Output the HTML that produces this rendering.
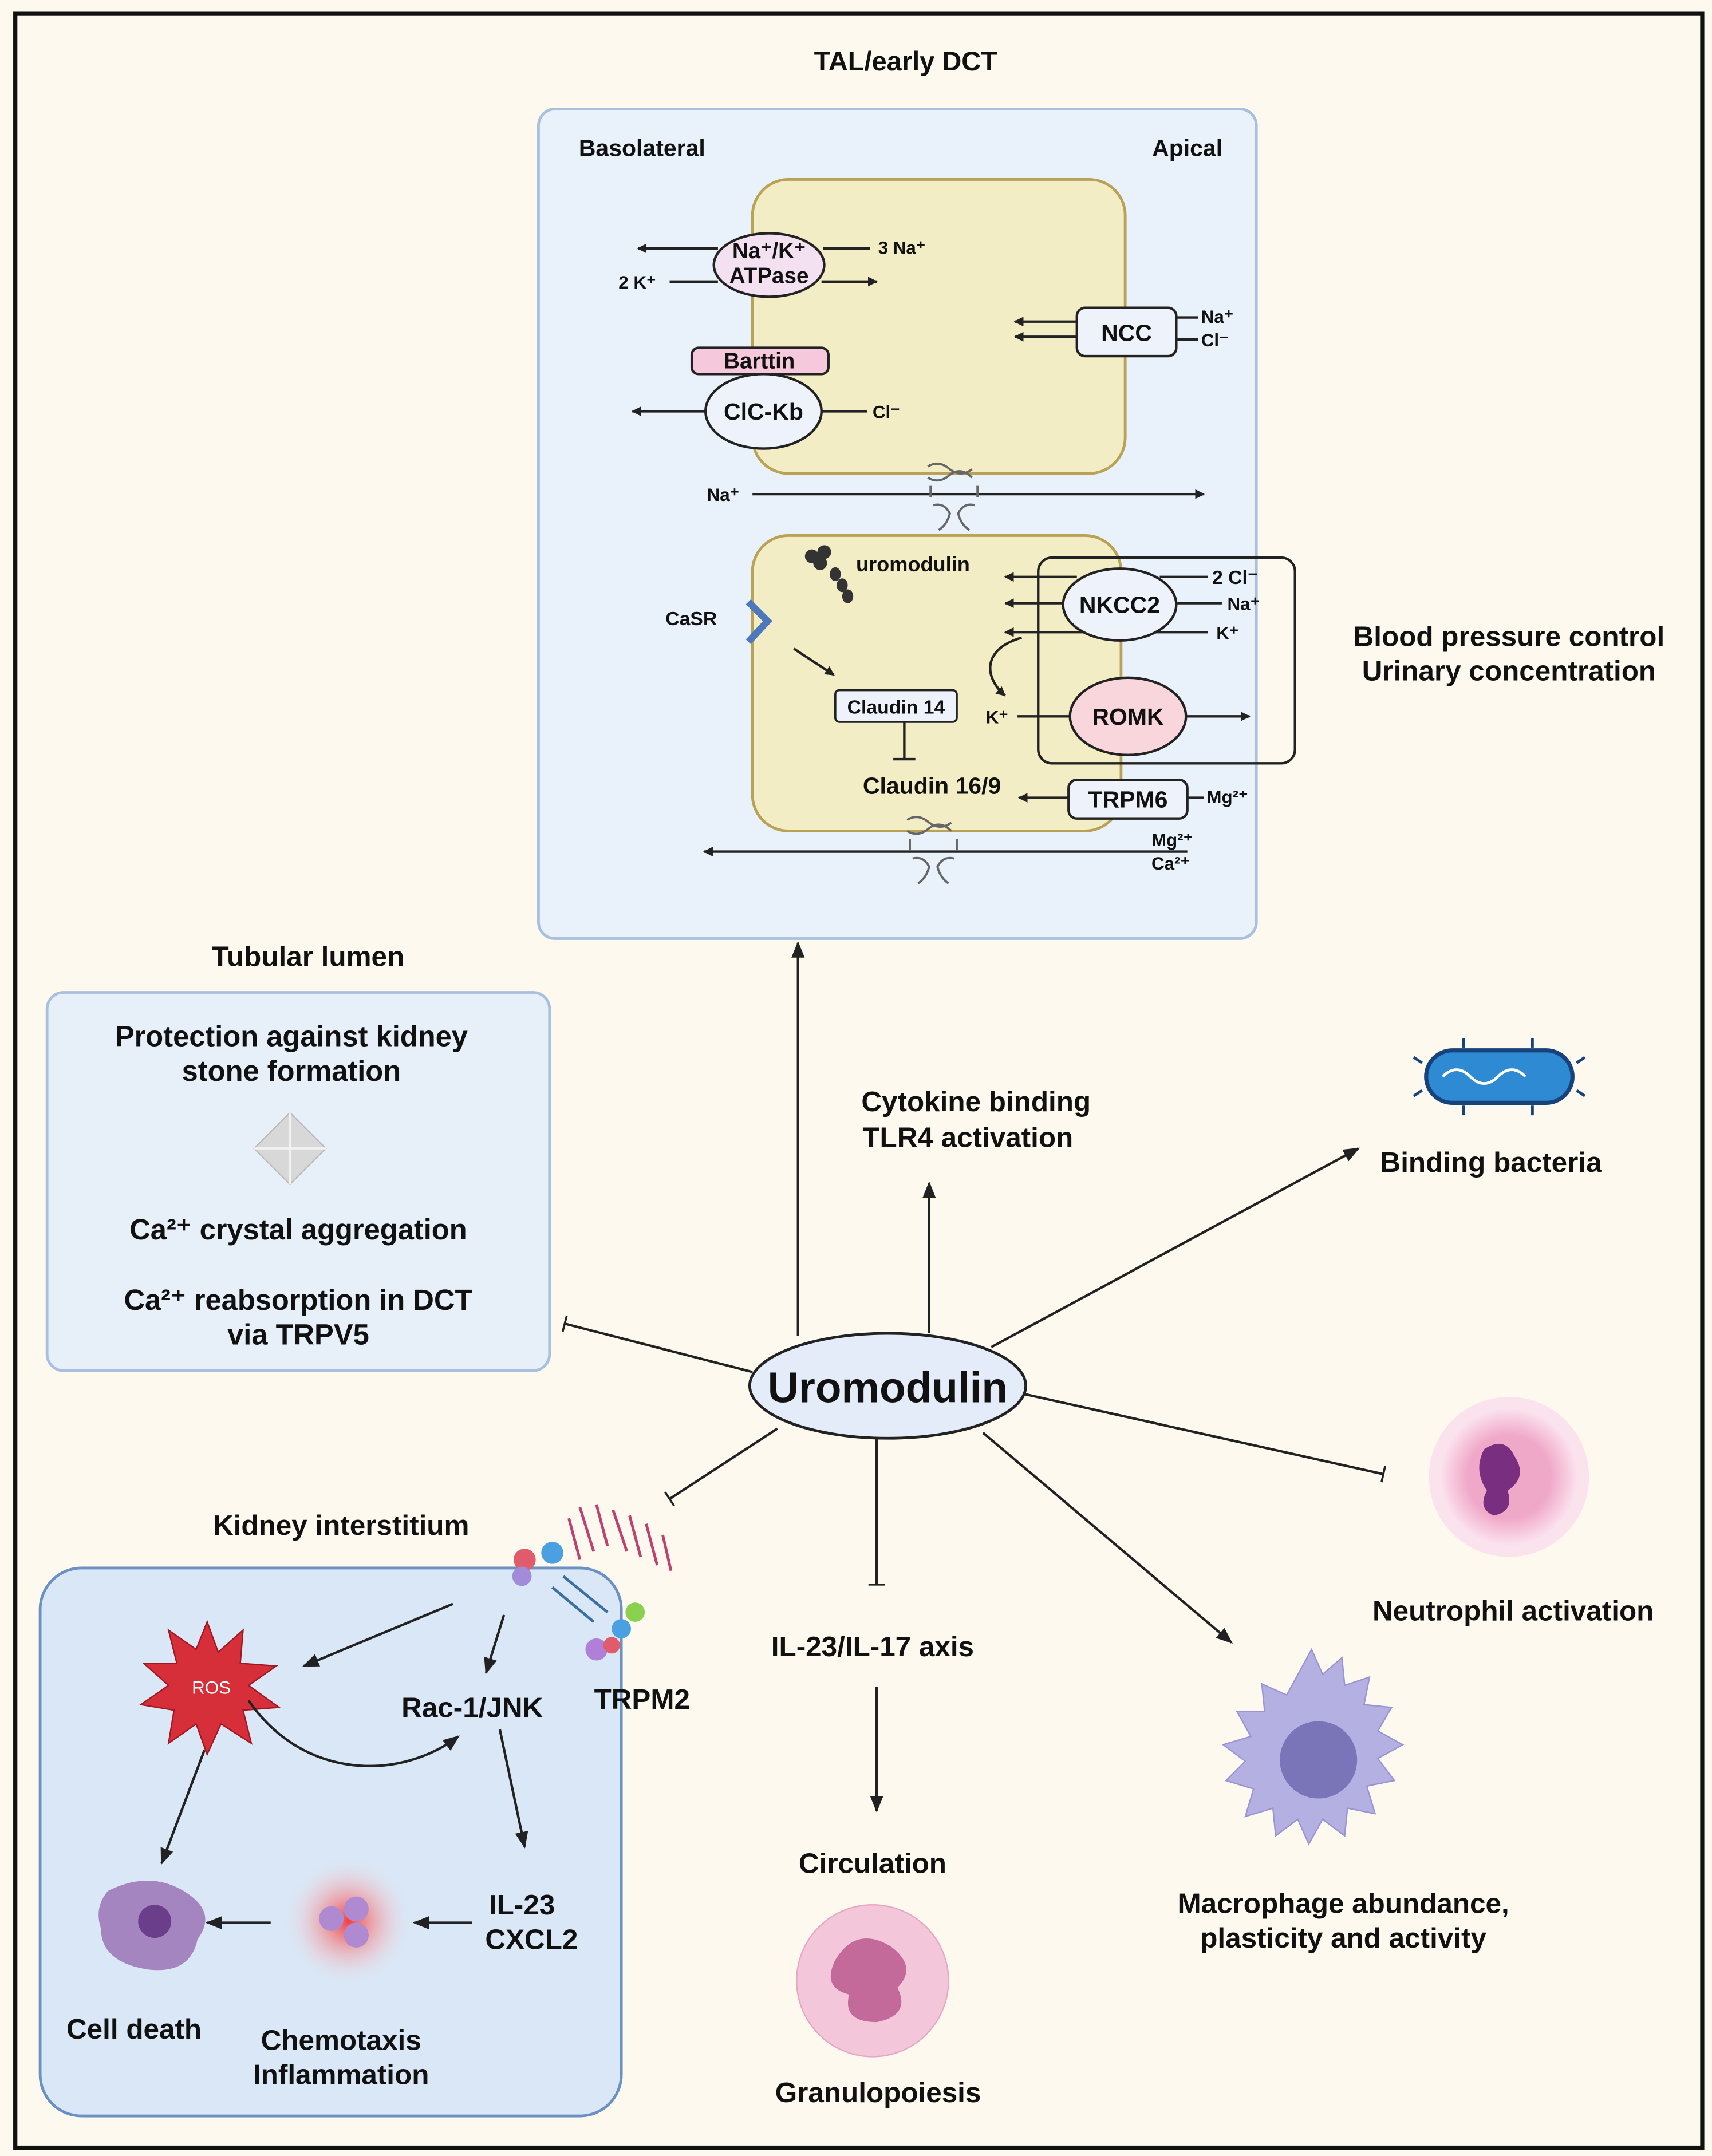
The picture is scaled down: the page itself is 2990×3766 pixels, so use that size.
<!DOCTYPE html>
<html><head><meta charset="utf-8"><style>
html,body{margin:0;padding:0;background:#fdf9ee}
svg{display:block}
text{font-family:"Liberation Sans",Arial,sans-serif;font-weight:bold;fill:#111}
</style></head><body>
<svg width="2990" height="3766" viewBox="0 0 1240 1562" xmlns="http://www.w3.org/2000/svg">
<defs>
<marker id="a" viewBox="0 0 10 10" refX="9" refY="5" markerWidth="7" markerHeight="7" orient="auto-start-reverse" markerUnits="userSpaceOnUse"><path d="M0,0L10,5L0,10z" fill="#222"/></marker>
<marker id="b" viewBox="0 0 10 10" refX="9" refY="5" markerWidth="12" markerHeight="12" orient="auto-start-reverse" markerUnits="userSpaceOnUse"><path d="M0,1L10,5L0,9z" fill="#222"/></marker>
<marker id="t" viewBox="0 0 4 12" refX="2" refY="6" markerWidth="4" markerHeight="12" orient="auto" markerUnits="userSpaceOnUse"><path d="M2,0V12" stroke="#222" stroke-width="1.5"/></marker>
<radialGradient id="ng"><stop offset="0.6" stop-color="#f0a8c8"/><stop offset="1" stop-color="#fbe3ee"/></radialGradient>
<radialGradient id="rg"><stop offset="0" stop-color="#f04040"/><stop offset="1" stop-color="#f8d8e0" stop-opacity="0"/></radialGradient>
</defs>
<rect x="0" y="0" width="1240" height="1562" fill="#fdf9ee"/>
<rect x="11" y="10" width="1222" height="1546" fill="#fdf9ee" stroke="#111" stroke-width="3"/>

<text x="656" y="51" font-size="19.5" text-anchor="middle">TAL/early DCT</text>
<rect x="390" y="79" width="520" height="601" rx="12" fill="#e9f1fb" stroke="#a8c0de" stroke-width="2"/>
<text x="465" y="113" font-size="17" text-anchor="middle">Basolateral</text>
<text x="860" y="113" font-size="17" text-anchor="middle">Apical</text>

<rect x="545" y="130" width="270" height="213" rx="26" fill="#f2edc4" stroke="#b9a156" stroke-width="2"/>
<rect x="545" y="388" width="267" height="214" rx="26" fill="#f2edc4" stroke="#b9a156" stroke-width="2"/>

<g stroke="#222" stroke-width="1.8" fill="none">
<line x1="520" y1="180" x2="462" y2="180" marker-end="url(#a)"/>
<line x1="596" y1="180" x2="630" y2="180"/>
<line x1="485" y1="204" x2="520" y2="204"/>
<line x1="595" y1="204" x2="635" y2="204" marker-end="url(#a)"/>
<line x1="780" y1="233" x2="735" y2="233" marker-end="url(#a)"/>
<line x1="780" y1="244" x2="735" y2="244" marker-end="url(#a)"/>
<line x1="852" y1="230" x2="868" y2="230"/><line x1="852" y1="246" x2="868" y2="246"/>
<line x1="512" y1="298" x2="458" y2="298" marker-end="url(#a)"/>
<line x1="594" y1="298" x2="628" y2="298"/>
<line x1="545" y1="358" x2="872" y2="358" marker-end="url(#a)"/>
<line x1="860" y1="617" x2="510" y2="617" marker-end="url(#a)"/>
<line x1="775" y1="578" x2="738" y2="578" marker-end="url(#a)"/>
<line x1="860" y1="578" x2="872" y2="578"/>
<line x1="780" y1="418" x2="728" y2="418" marker-end="url(#a)"/>
<line x1="875" y1="418" x2="840" y2="418"/>
<line x1="772" y1="437" x2="728" y2="437" marker-end="url(#a)"/>
<line x1="851" y1="437" x2="885" y2="437"/>
<line x1="875" y1="458" x2="728" y2="458" marker-end="url(#a)"/>
<path d="M740,462 C712,470 712,490 728,504" marker-end="url(#a)"/>
<line x1="737" y1="519" x2="775" y2="519"/>
<line x1="859" y1="519" x2="905" y2="519" marker-end="url(#a)"/>
<line x1="575" y1="470" x2="604" y2="489" marker-end="url(#a)"/>
<line x1="655" y1="523" x2="655" y2="550"/><line x1="647" y1="550" x2="663" y2="550"/>
<rect x="752" y="404" width="186" height="149" rx="10"/>
</g>
<g stroke="#666" stroke-width="1.6" fill="none">
<path d="M672,338 q8,-5 16,2 q8,6 16,0 M672,346 q8,5 16,-2 q8,-6 16,2 M674,352 v8 M708,352 v8 M676,366 q8,-2 12,6 q-2,8 -8,12 M706,366 q-8,-2 -12,6 q2,8 8,12"/>
<path d="M657,594 q8,-5 16,2 q8,6 16,0 M657,602 q8,5 16,-2 q8,-6 16,2 M659,608 v8 M693,608 v8 M661,622 q8,-2 12,6 q-2,8 -8,12 M691,622 q-8,-2 -12,6 q2,8 8,12"/>
</g>

<ellipse cx="557" cy="192" rx="40" ry="23" fill="#f3e1f1" stroke="#222" stroke-width="1.8"/>
<text x="557" y="187" font-size="16" text-anchor="middle">Na⁺/K⁺</text>
<text x="557" y="205" font-size="16" text-anchor="middle">ATPase</text>
<text x="636" y="184" font-size="13">3 Na⁺</text>
<text x="448" y="209" font-size="13">2 K⁺</text>
<rect x="780" y="223" width="72" height="35" rx="6" fill="#eef3fb" stroke="#222" stroke-width="1.8"/>
<text x="816" y="247" font-size="17" text-anchor="middle">NCC</text>
<text x="870" y="234" font-size="13">Na⁺</text><text x="870" y="251" font-size="13">Cl⁻</text>
<rect x="501" y="252" width="99" height="19" rx="5" fill="#f6c8dc" stroke="#222" stroke-width="1.8"/>
<text x="550" y="267" font-size="16" text-anchor="middle">Barttin</text>
<ellipse cx="553" cy="298" rx="42" ry="27" fill="#eef2fb" stroke="#222" stroke-width="1.8"/>
<text x="553" y="304" font-size="17" text-anchor="middle">ClC-Kb</text>
<text x="632" y="303" font-size="13">Cl⁻</text>
<text x="512" y="363" font-size="13">Na⁺</text>

<g fill="#333"><circle cx="588" cy="403" r="5"/><circle cx="597" cy="400" r="5"/><circle cx="594" cy="408" r="5"/><ellipse cx="605" cy="416" rx="4" ry="5"/><ellipse cx="610" cy="424" rx="4" ry="5"/><ellipse cx="614" cy="432" rx="4" ry="5"/></g>
<text x="620" y="414" font-size="15">uromodulin</text>
<text x="482" y="453" font-size="14">CaSR</text>
<path d="M542,436 L556,450 L542,465" fill="none" stroke="#4d78bd" stroke-width="5"/>
<rect x="605" y="500" width="88" height="23" rx="3" fill="#eef3fb" stroke="#222" stroke-width="1.5"/>
<text x="649" y="517" font-size="14" text-anchor="middle">Claudin 14</text>
<text x="675" y="575" font-size="17" text-anchor="middle">Claudin 16/9</text>
<ellipse cx="811" cy="438" rx="41" ry="26" fill="#eef3fb" stroke="#222" stroke-width="1.8"/>
<text x="811" y="444" font-size="17" text-anchor="middle">NKCC2</text>
<text x="878" y="423" font-size="14">2 Cl⁻</text><text x="889" y="442" font-size="13">Na⁺</text><text x="881" y="463" font-size="13">K⁺</text>
<text x="714" y="524" font-size="13">K⁺</text>
<ellipse cx="817" cy="519" rx="42" ry="28" fill="#f8d6dc" stroke="#222" stroke-width="1.8"/>
<text x="817" y="525" font-size="17" text-anchor="middle">ROMK</text>
<rect x="774" y="565" width="86" height="28" rx="6" fill="#eef3fb" stroke="#222" stroke-width="1.8"/>
<text x="817" y="585" font-size="17" text-anchor="middle">TRPM6</text>
<text x="874" y="582" font-size="13">Mg²⁺</text>
<text x="834" y="613" font-size="13">Mg²⁺</text><text x="834" y="630" font-size="13">Ca²⁺</text>

<text x="1093" y="468" font-size="20.5" text-anchor="middle">Blood pressure  control</text>
<text x="1093" y="493" font-size="20.5" text-anchor="middle">Urinary concentration</text>

<text x="223" y="700" font-size="20.5" text-anchor="middle">Tubular lumen</text>
<rect x="34" y="719" width="364" height="274" rx="12" fill="#e7eff9" stroke="#a8c0de" stroke-width="2"/>
<text x="211" y="758" font-size="21" text-anchor="middle">Protection against kidney</text>
<text x="211" y="783" font-size="21" text-anchor="middle">stone formation</text>
<path d="M210,806 L236,832 L210,858 L184,832z" fill="#d8d8d8" stroke="#bbb"/>
<path d="M210,806 L210,858 M184,832 L236,832" stroke="#f2f2f2" stroke-width="1.5"/>
<text x="216" y="898" font-size="21" text-anchor="middle">Ca²⁺ crystal aggregation</text>
<text x="216" y="949" font-size="21" text-anchor="middle">Ca²⁺ reabsorption in DCT</text>
<text x="216" y="974" font-size="21" text-anchor="middle">via TRPV5</text>

<g stroke="#222" stroke-width="1.8" fill="none">
<line x1="578" y1="968" x2="578" y2="683" marker-end="url(#b)"/>
<line x1="673" y1="966" x2="673" y2="857" marker-end="url(#b)"/>
<line x1="718" y1="976" x2="984" y2="832" marker-end="url(#b)"/>
<line x1="545" y1="994" x2="409" y2="959" marker-end="url(#t)"/>
<line x1="742" y1="1010" x2="1002" y2="1068" marker-end="url(#t)"/>
<line x1="563" y1="1035" x2="485" y2="1086" marker-end="url(#t)"/>
<line x1="635" y1="1042" x2="635" y2="1148" marker-end="url(#t)"/>
<line x1="712" y1="1038" x2="892" y2="1190" marker-end="url(#b)"/>
<line x1="635" y1="1222" x2="635" y2="1312" marker-end="url(#b)"/>
</g>
<ellipse cx="643" cy="1004" rx="100" ry="38" fill="#e3ecf8" stroke="#222" stroke-width="2"/>
<text x="643" y="1016" font-size="31" text-anchor="middle">Uromodulin</text>

<text x="707" y="805" font-size="20.5" text-anchor="middle">Cytokine binding</text>
<text x="701" y="831" font-size="20.5" text-anchor="middle">TLR4 activation</text>
<rect x="1033" y="761" width="106" height="38" rx="19" fill="#2f8ad4" stroke="#17427a" stroke-width="3"/>
<path d="M1045,780 q10,-10 20,0 t20,0 t20,0" stroke="#fff" fill="none" stroke-width="2"/>
<g stroke="#17427a" stroke-width="2"><line x1="1030" y1="770" x2="1024" y2="766"/><line x1="1030" y1="790" x2="1024" y2="794"/><line x1="1142" y1="770" x2="1148" y2="766"/><line x1="1142" y1="790" x2="1148" y2="794"/><line x1="1060" y1="759" x2="1060" y2="752"/><line x1="1110" y1="759" x2="1110" y2="752"/><line x1="1060" y1="801" x2="1060" y2="808"/><line x1="1110" y1="801" x2="1110" y2="808"/></g>
<text x="1080" y="849" font-size="20.5" text-anchor="middle">Binding bacteria</text>

<circle cx="1093" cy="1070" r="58" fill="#fbe3ee"/>
<circle cx="1093" cy="1070" r="50" fill="url(#ng)"/>
<path d="M1075,1050 q15,-10 22,5 q10,15 -5,25 q5,15 -10,18 q-12,-5 -5,-18 q-10,-15 -2,-30z" fill="#7a2e80"/>
<text x="1096" y="1174" font-size="20.5" text-anchor="middle">Neutrophil activation</text>

<path d="M950,1195 l8,18 14,-12 2,20 18,-6 -4,20 20,2 -10,17 18,10 -18,10 12,16 -20,4 6,20 -20,-4 -2,20 -16,-12 -10,18 -8,-18 -16,12 -2,-20 -20,6 6,-20 -20,-6 14,-14 -16,-12 20,-6 -10,-18 20,0 -2,-20 18,8z" fill="#b5b0e2" stroke="#9a94d4"/>
<circle cx="955" cy="1275" r="28" fill="#7a74b8"/>
<text x="973" y="1386" font-size="20.5" text-anchor="middle">Macrophage abundance,</text>
<text x="973" y="1411" font-size="20.5" text-anchor="middle">plasticity and activity</text>

<text x="632" y="1200" font-size="20.5" text-anchor="middle">IL-23/IL-17 axis</text>
<text x="632" y="1357" font-size="20.5" text-anchor="middle">Circulation</text>
<circle cx="632" cy="1435" r="55" fill="#f3c6da" stroke="#e8a8c4"/>
<path d="M605,1420 q15,-25 40,-10 q20,15 5,30 q10,20 -15,25 q-25,0 -20,-20 q-20,-5 -10,-25z" fill="#c36a9a"/>
<text x="636" y="1523" font-size="20.5" text-anchor="middle">Granulopoiesis</text>

<text x="247" y="1112" font-size="20.5" text-anchor="middle">Kidney interstitium</text>
<rect x="29" y="1136" width="421" height="397" rx="30" fill="#d9e7f6" stroke="#6b90c2" stroke-width="2"/>
<g stroke="#c04070" stroke-width="2" fill="none"><path d="M412,1100 l8,30 M420,1092 l10,32 M432,1090 l8,30 M444,1094 l10,30 M456,1098 l8,30 M468,1104 l8,30 M480,1112 l6,26"/></g>
<g stroke="#3a6fa0" stroke-width="2"><line x1="400" y1="1150" x2="430" y2="1175"/><line x1="408" y1="1142" x2="440" y2="1168"/></g>
<circle cx="380" cy="1130" r="8" fill="#e05c6c"/><circle cx="400" cy="1125" r="8" fill="#4aa0e0"/><circle cx="378" cy="1142" r="7" fill="#a08cd8"/><circle cx="460" cy="1168" r="7" fill="#8cd050"/><circle cx="450" cy="1180" r="7" fill="#4aa0e0"/><circle cx="432" cy="1195" r="8" fill="#b080d8"/><circle cx="443" cy="1192" r="6" fill="#e05c6c"/>
<text x="465" y="1238" font-size="20.5" text-anchor="middle">TRPM2</text>

<path d="M150,1175 l8,22 18,-16 -2,24 26,2 -20,14 22,16 -26,2 6,24 -22,-14 -10,22 -8,-22 -20,14 4,-24 -24,-4 20,-14 -18,-16 24,0 -6,-24 20,14z" fill="#d62f3a" stroke="#a01822"/>
<text x="153" y="1227" font-size="13" text-anchor="middle" style="fill:#fff;font-weight:normal">ROS</text>
<text x="342" y="1244" font-size="20.5" text-anchor="middle">Rac-1/JNK</text>
<text x="378" y="1387" font-size="20.5" text-anchor="middle">IL-23</text>
<text x="385" y="1412" font-size="20.5" text-anchor="middle">CXCL2</text>
<circle cx="252" cy="1392" r="45" fill="url(#rg)"/>
<circle cx="240" cy="1390" r="9" fill="#b08ad0"/><circle cx="258" cy="1383" r="9" fill="#b08ad0"/><circle cx="258" cy="1402" r="9" fill="#b08ad0"/>
<path d="M78,1370 q30,-15 55,0 q25,15 10,35 q-5,25 -35,22 q-35,-5 -35,-30 q-5,-15 5,-27z" fill="#a585c0"/>
<circle cx="112" cy="1392" r="12" fill="#6a3e8a"/>
<text x="97" y="1477" font-size="20.5" text-anchor="middle">Cell death</text>
<text x="247" y="1485" font-size="20.5" text-anchor="middle">Chemotaxis</text>
<text x="247" y="1510" font-size="20.5" text-anchor="middle">Inflammation</text>
<g stroke="#222" stroke-width="1.8" fill="none">
<line x1="328" y1="1162" x2="220" y2="1207" marker-end="url(#b)"/>
<line x1="365" y1="1170" x2="352" y2="1212" marker-end="url(#b)"/>
<path d="M180,1232 C220,1290 290,1290 332,1258" marker-end="url(#b)"/>
<line x1="362" y1="1253" x2="380" y2="1338" marker-end="url(#b)"/>
<line x1="148" y1="1268" x2="117" y2="1350" marker-end="url(#b)"/>
<line x1="342" y1="1393" x2="300" y2="1393" marker-end="url(#b)"/>
<line x1="196" y1="1393" x2="150" y2="1393" marker-end="url(#b)"/>
</g>
</svg>
</body></html>
